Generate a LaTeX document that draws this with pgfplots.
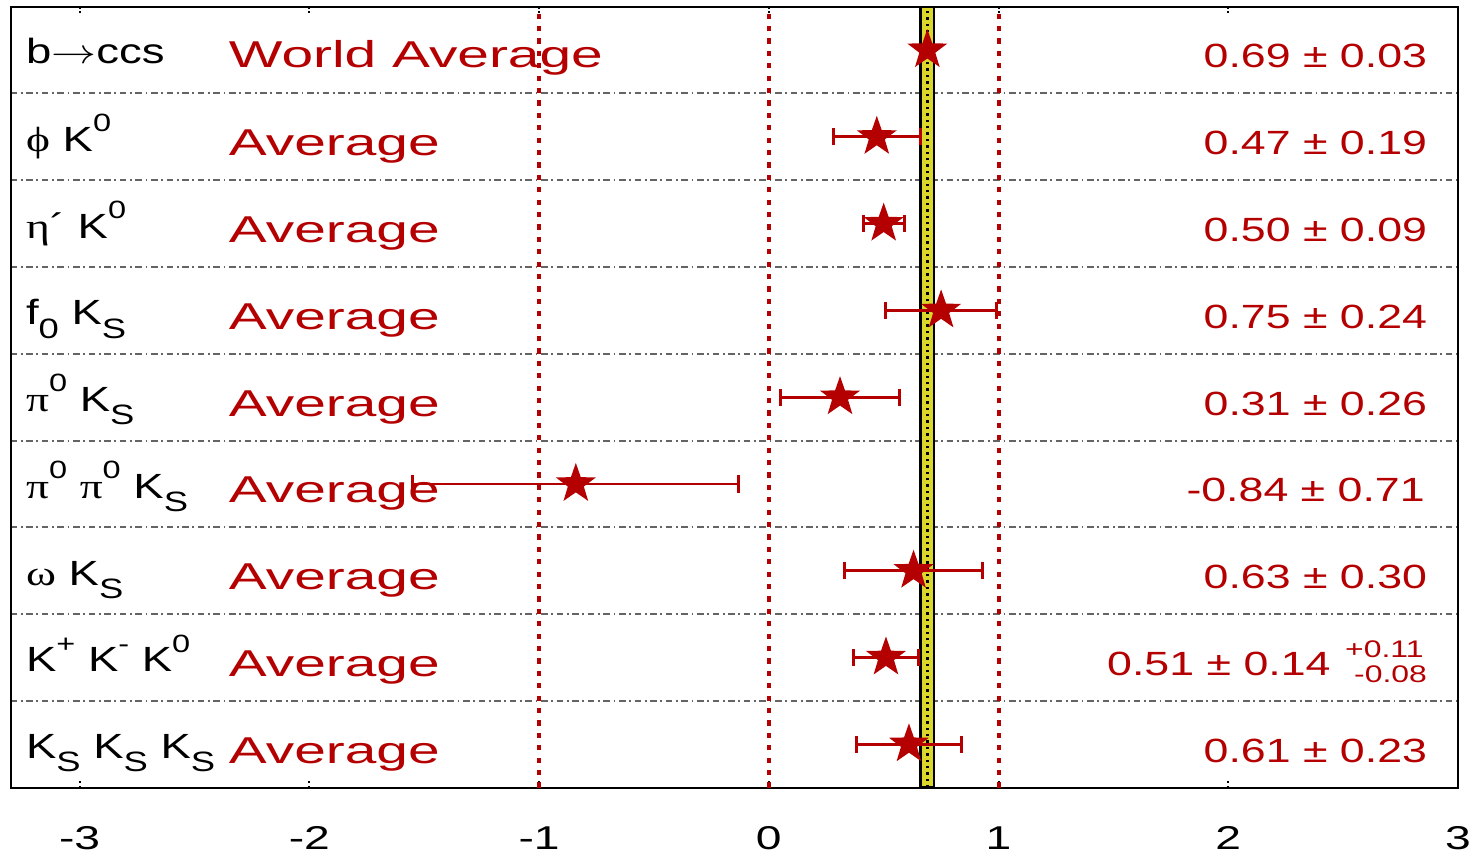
\documentclass[border=0pt]{standalone}
\usepackage{pgfplots}
\pgfplotsset{compat=1.18}
\usepackage{pgfplotstable}
\usepackage{fontspec}
\setmainfont{Liberation Sans}
\newfontfamily\avgfont[FakeStretch=1.52]{Liberation Sans}
\newfontfamily\valfont[FakeStretch=1.33]{Liberation Sans}
\newfontfamily\labfont[FakeStretch=1.3]{Liberation Sans}
\newfontfamily\grkfont[FakeStretch=1.3]{Liberation Serif}
\newfontfamily\tickfont[FakeStretch=1.4]{Liberation Sans}
\definecolor{hred}{RGB}{180,0,0}
\definecolor{band}{RGB}{218,214,44}
\definecolor{sepgray}{RGB}{100,100,100}
\newcommand\LF{\labfont\fontsize{17.5}{20}\selectfont}
\newcommand\AF{\avgfont\fontsize{18.7}{22}\selectfont}
\newcommand\VF{\valfont\fontsize{16.8}{20}\selectfont}
\newcommand\G[1]{{\grkfont\fontsize{17.5}{20}\selectfont #1}}
\newcommand\sps[1]{\raisebox{0.56em}{\labfont\fontsize{12.5}{13}\selectfont #1}}
\newcommand\sbs[1]{\raisebox{-0.38em}{\labfont\fontsize{14}{14}\selectfont #1}}
\tikzset{lab/.style={inner sep=0pt, outer sep=0pt}}
\pgfdeclareplotmark{fstar}{%
  \pgfpathmoveto{\pgfqpointpolar{90}{\pgfplotmarksize}}%
  \pgfpathlineto{\pgfqpointpolar{126}{0.4\pgfplotmarksize}}%
  \pgfpathlineto{\pgfqpointpolar{162}{\pgfplotmarksize}}%
  \pgfpathlineto{\pgfqpointpolar{198}{0.4\pgfplotmarksize}}%
  \pgfpathlineto{\pgfqpointpolar{234}{\pgfplotmarksize}}%
  \pgfpathlineto{\pgfqpointpolar{270}{0.4\pgfplotmarksize}}%
  \pgfpathlineto{\pgfqpointpolar{306}{\pgfplotmarksize}}%
  \pgfpathlineto{\pgfqpointpolar{342}{0.4\pgfplotmarksize}}%
  \pgfpathlineto{\pgfqpointpolar{18}{\pgfplotmarksize}}%
  \pgfpathlineto{\pgfqpointpolar{54}{0.4\pgfplotmarksize}}%
  \pgfpathclose
  \pgfusepathqfill}
\pgfplotstableread{
x y ex
0.47 7.5 0.19
0.50 6.5 0.09
0.75 5.5 0.24
0.31 4.5 0.26
-0.84 3.5 0.71
0.63 2.5 0.30
0.51 1.5 0.14
0.61 0.5 0.23
}\meas
\begin{document}
\begin{tikzpicture}
\begin{axis}[
  scale only axis, width=723.7pt, height=390.5pt,
  xmin=-3.3, xmax=3, ymin=0, ymax=9,
  xtick={-3,-2,-1,0,1,2,3},
  xticklabels={-3,-2,-1,0,1,2,3},
  xticklabel style={font=\tickfont\fontsize{16.5}{18}\selectfont, yshift=-16pt},
  ytick={1,2,3,4,5,6,7,8}, yticklabels={},
  ymajorgrids,
  grid style={sepgray, line width=1pt, dash pattern=on 3.3pt off 1.8pt on 0.9pt off 1.8pt},
  y tick style={draw=none},
  x tick style={black, line width=1pt, dash pattern=on 1pt off 1.2pt},
  tick align=inside, major tick length=4pt,
  axis line style={line width=1pt},
]
% red reference lines
\addplot[hred, line width=2pt, dash pattern=on 2.6pt off 3.6pt] coordinates {(-1,0) (-1,9)};
\addplot[hred, line width=2pt, dash pattern=on 2.6pt off 3.6pt] coordinates {(0,0) (0,9)};
\addplot[hred, line width=2pt, dash pattern=on 2.6pt off 3.6pt] coordinates {(1,0) (1,9)};
% world average band
\addplot[fill=band, draw=black, line width=1.2pt] coordinates {(0.66,0) (0.72,0) (0.72,9) (0.66,9)} -- cycle;
\addplot[black, line width=1.3pt, dash pattern=on 1.2pt off 2pt] coordinates {(0.69,0) (0.69,9)};
% measurements
\addplot[hred, only marks, mark=fstar, mark size=10.5pt,
  error bars/.cd, x dir=both, x explicit,
  error bar style={hred, line width=1.4pt},
  error mark options={hred, rotate=90, mark size=4.3pt, line width=1.5pt}]
  table[x=x, y=y, x error=ex] {\meas};
\addplot[hred, only marks, mark=fstar, mark size=10.5pt] coordinates {(0.69,8.5)};
% left labels
\node[lab, anchor=base west, yshift=-6.5pt, font=\LF] at (axis cs:-3.233,8.5) {b\scalebox{1.3}[1]{$\rightarrow$}ccs};
\node[lab, anchor=base west, yshift=-7.2pt, font=\LF] at (axis cs:-3.233,7.5) {\G{ϕ} K\sps{0}};
\node[lab, anchor=base west, yshift=-7.2pt, font=\LF] at (axis cs:-3.233,6.5) {\G{η}´ K\sps{0}};
\node[lab, anchor=base west, yshift=-7.2pt, font=\LF] at (axis cs:-3.233,5.5) {f\sbs{0} K\sbs{S}};
\node[lab, anchor=base west, yshift=-7.2pt, font=\LF] at (axis cs:-3.233,4.5) {\G{π}\sps{0} K\sbs{S}};
\node[lab, anchor=base west, yshift=-7.2pt, font=\LF] at (axis cs:-3.233,3.5) {\G{π}\sps{0} \G{π}\sps{0} K\sbs{S}};
\node[lab, anchor=base west, yshift=-7.2pt, font=\LF] at (axis cs:-3.233,2.5) {\G{ω} K\sbs{S}};
\node[lab, anchor=base west, yshift=-7.2pt, font=\LF] at (axis cs:-3.233,1.5) {K\sps{+} K\sps{-} K\sps{0}};
\node[lab, anchor=base west, yshift=-7.2pt, font=\LF] at (axis cs:-3.233,0.5) {K\sbs{S} K\sbs{S} K\sbs{S}};
% average labels
\node[lab, anchor=base west, yshift=-8.5pt, font=\AF, text=hred] at (axis cs:-2.35,8.5) {World Average};
\node[lab, anchor=base west, yshift=-9.5pt, font=\AF, text=hred] at (axis cs:-2.35,7.5) {Average};
\node[lab, anchor=base west, yshift=-9.5pt, font=\AF, text=hred] at (axis cs:-2.35,6.5) {Average};
\node[lab, anchor=base west, yshift=-9.5pt, font=\AF, text=hred] at (axis cs:-2.35,5.5) {Average};
\node[lab, anchor=base west, yshift=-9.5pt, font=\AF, text=hred] at (axis cs:-2.35,4.5) {Average};
\node[lab, anchor=base west, yshift=-9.5pt, font=\AF, text=hred] at (axis cs:-2.35,3.5) {Average};
\node[lab, anchor=base west, yshift=-9.5pt, font=\AF, text=hred] at (axis cs:-2.35,2.5) {Average};
\node[lab, anchor=base west, yshift=-9.5pt, font=\AF, text=hred] at (axis cs:-2.35,1.5) {Average};
\node[lab, anchor=base west, yshift=-9.5pt, font=\AF, text=hred] at (axis cs:-2.35,0.5) {Average};
% values
\node[lab, anchor=base east, yshift=-8.5pt, font=\VF, text=hred] at (axis cs:2.865,8.5) {0.69 ± 0.03};
\node[lab, anchor=base east, yshift=-9pt, font=\VF, text=hred] at (axis cs:2.865,7.5) {0.47 ± 0.19};
\node[lab, anchor=base east, yshift=-9pt, font=\VF, text=hred] at (axis cs:2.865,6.5) {0.50 ± 0.09};
\node[lab, anchor=base east, yshift=-9pt, font=\VF, text=hred] at (axis cs:2.865,5.5) {0.75 ± 0.24};
\node[lab, anchor=base east, yshift=-9pt, font=\VF, text=hred] at (axis cs:2.865,4.5) {0.31 ± 0.26};
\node[lab, anchor=base east, yshift=-9pt, font=\VF, text=hred] at (axis cs:2.855,3.5) {-0.84 ± 0.71};
\node[lab, anchor=base east, yshift=-9pt, font=\VF, text=hred] at (axis cs:2.865,2.5) {0.63 ± 0.30};
\node[lab, anchor=base east, yshift=-9pt, font=\VF, text=hred] at (axis cs:2.445,1.5) {0.51 ± 0.14};
\node[lab, anchor=base east, yshift=0pt, font=\valfont\fontsize{12}{12}\selectfont, text=hred] at (axis cs:2.85,1.5) {+0.11};
\node[lab, anchor=base east, yshift=-12.5pt, font=\valfont\fontsize{12}{12}\selectfont, text=hred] at (axis cs:2.865,1.5) {-0.08};
\node[lab, anchor=base east, yshift=-9pt, font=\VF, text=hred] at (axis cs:2.865,0.5) {0.61 ± 0.23};
\end{axis}
\pgfresetboundingbox
\path ([shift={(-5.35pt,-34pt)}]current axis.south west) rectangle ([shift={(7.5pt,3.35pt)}]current axis.north east);
\end{tikzpicture}
\end{document}
